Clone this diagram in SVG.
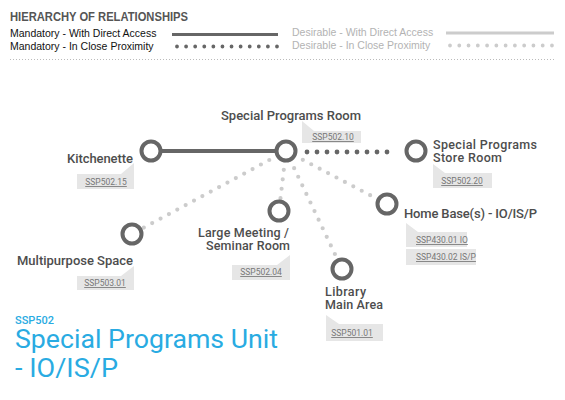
<svg xmlns="http://www.w3.org/2000/svg" width="565" height="400" viewBox="0 0 565 400">
<style>
.lg{font-family:"Liberation Sans",Arial,sans-serif;font-size:10.5px}
.lgd{fill:#111}
.lgl{fill:#b3b3b3}
.hd{font-family:"Liberation Sans",Arial,sans-serif;font-size:12px;font-weight:bold;fill:#555}
.lab{font-family:Roboto,"DejaVu Sans",sans-serif;font-size:13px;font-weight:500;fill:#4d4d4d}
.lab2{font-family:Roboto,"DejaVu Sans",sans-serif;font-size:12.5px;font-weight:500;fill:#4d4d4d}
.tag{fill:#e6e6e6}
.tt{font-family:Roboto,"DejaVu Sans",sans-serif;font-size:8.5px;fill:#777;text-decoration:underline}
.node{fill:#fff;stroke:#666;stroke-width:4}
.solid{stroke:#666;stroke-width:4;fill:none}
.ddot{stroke:#666;stroke-width:4.8;stroke-linecap:round;fill:none}
.ldot{stroke:#ccc;stroke-width:4.2;stroke-linecap:round;fill:none;stroke-dasharray:0 9.5}
.title{font-family:Roboto,"DejaVu Sans",sans-serif;fill:#29abe2}
</style>
<rect width="565" height="400" fill="#fff"/>
<g id="legend">
<text class="hd" x="10" y="21" textLength="178" lengthAdjust="spacingAndGlyphs">HIERARCHY OF RELATIONSHIPS</text>
<text class="lg lgd" x="10" y="37">Mandatory - With Direct Access</text>
<text class="lg lgd" x="10" y="50">Mandatory - In Close Proximity</text>
<line x1="172" y1="34.5" x2="278" y2="34.5" stroke="#666" stroke-width="3"/>
<line x1="177" y1="46.5" x2="277" y2="46.5" stroke="#666" stroke-width="3.8" stroke-linecap="round" stroke-dasharray="0 9.09"/>
<text class="lg lgl" x="292" y="36">Desirable - With Direct Access</text>
<text class="lg lgl" x="292" y="49">Desirable - In Close Proximity</text>
<line x1="446" y1="33" x2="554" y2="33" stroke="#ccc" stroke-width="3"/>
<line x1="450" y1="45.5" x2="552" y2="45.5" stroke="#ccc" stroke-width="3.8" stroke-linecap="round" stroke-dasharray="0 9.27"/>
<line x1="10" y1="59.5" x2="555" y2="59.5" stroke="#bbb" stroke-width="1" stroke-dasharray="1 2"/>
</g>
<g id="connectors">
<line class="solid" x1="151" y1="151" x2="286" y2="151"/>
<line class="ddot" x1="307" y1="152" x2="397" y2="152" stroke-dasharray="0 10"/>
<line class="ldot" x1="286" y1="151" x2="132" y2="234"/>
<line class="ldot" x1="286" y1="151" x2="279" y2="211"/>
<line class="ldot" x1="286" y1="151" x2="342" y2="269"/>
<line class="ldot" x1="286" y1="151" x2="387" y2="204"/>
</g>
<g id="kitchenette">
<circle class="node" cx="151" cy="151" r="9.5"/>
<text class="lab" x="67" y="163" textLength="66">Kitchenette</text>
<path class="tag" d="M77,174 L121,174 L134,163 L134,189 L77,189 Z"/>
<text class="tt" x="106" y="185" text-anchor="middle">SSP502.15</text>
</g>
<g id="special-programs-room">
<circle class="node" cx="286" cy="151" r="9.5"/>
<text class="lab" x="221" y="120" textLength="140">Special Programs Room</text>
<path class="tag" d="M302,121 L314,131 L361,131 L361,143 L302,143 Z"/>
<text class="tt" x="333" y="140" text-anchor="middle">SSP502.10</text>
</g>
<g id="store-room">
<circle class="node" cx="416" cy="151" r="9.5"/>
<text class="lab2" x="433" y="149" textLength="104">Special Programs</text>
<text class="lab2" x="433" y="162" textLength="69">Store Room</text>
<path class="tag" d="M433,164 L445,173 L492,173 L492,188 L433,188 Z"/>
<text class="tt" x="462" y="184" text-anchor="middle">SSP502.20</text>
</g>
<g id="home-base">
<circle class="node" cx="387" cy="204" r="9.5"/>
<text class="lab" x="404" y="218" textLength="133">Home Base(s) - IO/IS/P</text>
<path class="tag" d="M406,223 L418,232 L467,232 L467,247 L406,247 Z"/>
<text class="tt" x="416" y="243">SSP430.01 IO</text>
<rect class="tag" x="406" y="249" width="70" height="16"/>
<text class="tt" x="416" y="260">SSP430.02 IS/P</text>
</g>
<g id="multipurpose">
<circle class="node" cx="132" cy="234" r="9.5"/>
<text class="lab" x="17" y="265" textLength="116">Multipurpose Space</text>
<path class="tag" d="M77,276 L121,276 L134,266 L134,290 L77,290 Z"/>
<text class="tt" x="105" y="286" text-anchor="middle">SSP503.01</text>
</g>
<g id="large-meeting">
<circle class="node" cx="279" cy="211" r="9.5"/>
<text class="lab2" x="289" y="237" text-anchor="end" textLength="91">Large Meeting /</text>
<text class="lab2" x="290" y="250" text-anchor="end" textLength="84">Seminar Room</text>
<path class="tag" d="M232,265 L277,265 L290,255 L290,280 L232,280 Z"/>
<text class="tt" x="261" y="275" text-anchor="middle">SSP502.04</text>
</g>
<g id="library">
<circle class="node" cx="342" cy="269" r="9.5"/>
<text class="lab2" x="325" y="296" textLength="41">Library</text>
<text class="lab2" x="325" y="309" textLength="58">Main Area</text>
<path class="tag" d="M326,315 L339,324 L383,324 L383,341 L326,341 Z"/>
<text class="tt" x="352" y="336" text-anchor="middle">SSP501.01</text>
</g>
<g id="title">
<text class="title" x="15" y="323.5" font-size="11" font-weight="500">SSP502</text>
<text class="title" x="15" y="348" font-size="25" textLength="263" lengthAdjust="spacingAndGlyphs">Special Programs Unit</text>
<text class="title" x="15" y="377" font-size="25" textLength="103" lengthAdjust="spacingAndGlyphs">- IO/IS/P</text>
</g>
</svg>
